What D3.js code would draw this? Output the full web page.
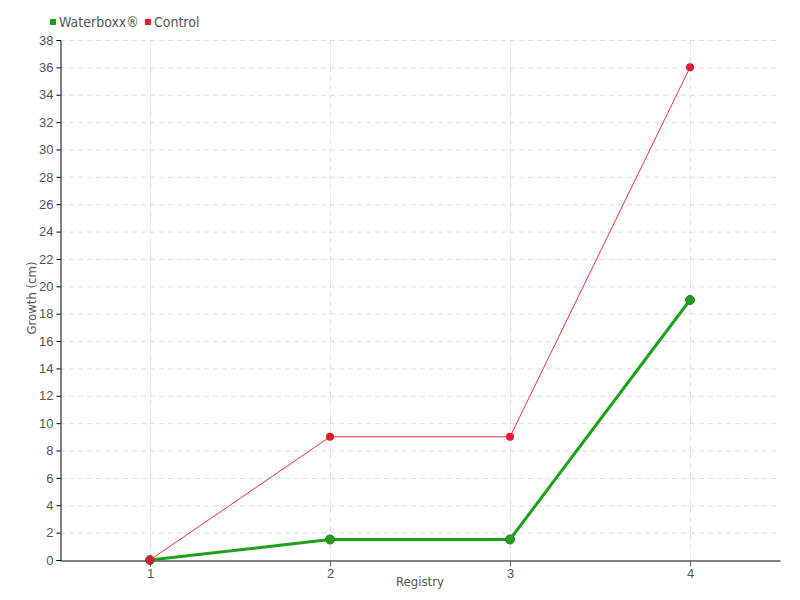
<!DOCTYPE html>
<html>
<head>
<meta charset="utf-8">
<script src="https://cdn.jsdelivr.net/npm/d3@7"></script>
<style>
  body { margin: 0; background: #fff; }
  svg { font-family: "DejaVu Sans Condensed", "DejaVu Sans", sans-serif; font-stretch: condensed; }
  .grid line { stroke: #ddd; stroke-dasharray: 5,4; }
  .tick text { fill: #555; font-size: 13px; }
</style>
</head>
<body>
<div id="main"></div>
<script>
var width = 800,
    height = 600;

var registry = [1, 2, 3, 4];
var waterboxx = [0, 1.5, 1.5, 19];
var control = [0, 9, 9, 36];
var yTicks = d3.range(0, 39, 2);

var margin = {left: 60, right: 20, top: 40, bottom: 40};

var svg = d3.select("div#main").append("svg")
    .attr("width", width)
    .attr("height", height);

var x = d3.scaleLinear().domain([0.5, 4.5]).range([margin.left, width - margin.right]);
var y = d3.scaleLinear().domain([0, 38]).range([height - margin.bottom, margin.top]);

// grid
svg.append("g").attr("class", "grid")
    .selectAll("line.h").data(yTicks.slice(1))
    .enter().append("line")
    .attr("x1", x.range()[0]).attr("x2", x.range()[1])
    .attr("y1", function(d) { return y(d) + 0.5; })
    .attr("y2", function(d) { return y(d) + 0.5; });

svg.append("g").attr("class", "grid")
    .selectAll("line.v").data(registry)
    .enter().append("line")
    .attr("x1", function(d) { return x(d) + 0.5; })
    .attr("x2", function(d) { return x(d) + 0.5; })
    .attr("y1", y.range()[1]).attr("y2", y.range()[0]);

// axes
var yAxis = svg.append("g")
    .attr("transform", `translate(${margin.left + 0.5},0)`)
    .call(d3.axisLeft(y).tickValues(yTicks).tickSize(4).tickPadding(3));
yAxis.select(".domain").attr("stroke", "#000");
yAxis.selectAll(".tick line").attr("stroke", "#000");

var xAxis = svg.append("g")
    .attr("transform", `translate(0,${height - margin.bottom + 0.5})`)
    .call(d3.axisBottom(x).tickValues(registry).tickFormat(d3.format("d")).tickSize(6).tickPadding(2).tickSizeOuter(0));
xAxis.select(".domain").attr("stroke", "#000");
xAxis.selectAll(".tick line").attr("stroke", "#666");

svg.append("text")
    .attr("x", x(2.5)).attr("y", 586)
    .attr("text-anchor", "middle")
    .attr("fill", "#555").style("font-size", "13px")
    .text("Registry");

svg.append("text")
    .attr("transform", `translate(36,${y(19) - 2}) rotate(-90)`)
    .attr("text-anchor", "middle")
    .attr("fill", "#555").style("font-size", "13px")
    .text("Growth (cm)");

// series
var line = d3.line()
    .x(function(d, i) { return x(registry[i]); })
    .y(function(d) { return y(d); });

svg.append("path").datum(control)
    .attr("fill", "none").attr("stroke", "#f0303f").attr("stroke-width", 1)
    .attr("d", line);

svg.append("path").datum(waterboxx)
    .attr("fill", "none").attr("stroke", "#1fa01a").attr("stroke-width", 3)
    .attr("d", line);

svg.selectAll(".wdot").data(waterboxx)
    .enter().append("circle")
    .attr("cx", function(d, i) { return x(registry[i]); })
    .attr("cy", function(d) { return y(d); })
    .attr("r", 4.5)
    .attr("fill", "#20a01c").attr("stroke", "#2a7a22").attr("stroke-width", 1);

svg.selectAll(".cdot").data(control)
    .enter().append("circle")
    .attr("cx", function(d, i) { return x(registry[i]); })
    .attr("cy", function(d) { return y(d); })
    .attr("r", 4)
    .attr("fill", "#e8192c");

// legend
var legend = [["Waterboxx\u00ae", "#1fa01a"], ["Control", "#e8192c"]];
var lx = 50;
legend.forEach(function(l) {
    svg.append("rect").attr("x", lx).attr("y", 19).attr("width", 6).attr("height", 6).attr("fill", l[1]);
    var t = svg.append("text").attr("x", lx + 9).attr("y", 27)
        .attr("fill", "#555").style("font-size", "14px").text(l[0]);
    lx += 9 + t.node().getComputedTextLength() + 6;
});
</script>
</body>
</html>
